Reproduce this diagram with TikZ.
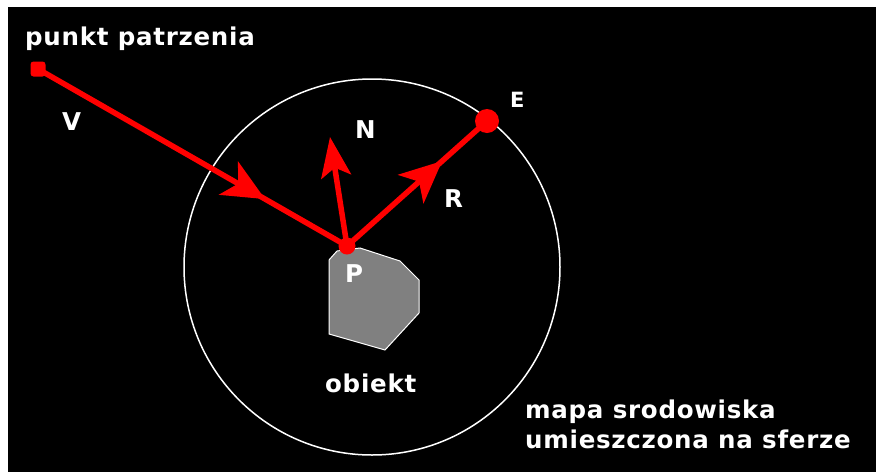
\documentclass[tikz,border=0pt]{standalone}
\usepackage{fontspec}
\setmainfont{DejaVu Sans}[LetterSpace=3]
\usetikzlibrary{arrows.meta,decorations.markings}
\definecolor{objgray}{RGB}{128,128,128}
\tikzset{bigtip/.tip={Stealth[length=42pt,width=38pt,inset=11pt]}}
\begin{document}
\begin{tikzpicture}[x=1pt,y=-1pt,
  lbl/.style={text=white,font=\bfseries\fontsize{24.5}{30}\selectfont,inner sep=0pt,anchor=base west},
  ray/.style={draw=red,line width=5.5pt},
  midarrow/.style={postaction={decorate},decoration={markings,mark=at position #1 with {\arrow[red]{bigtip}}}}
]
\useasboundingbox (0,0) rectangle (876,472);
\fill[white] (0,0) rectangle (876,472);
\fill[black] (8,7) rectangle (876,472);
% environment sphere
\draw[white,line width=1.5pt] (372,267) circle[radius=188pt];
% object
\draw[white,fill=objgray,line width=1pt] (329,260) -- (337,251) -- (360,248) -- (400,261) -- (419,280) -- (419,313) -- (385,350) -- (329,334) -- cycle;
% points
\node[fill=red,minimum size=15pt,rounded corners=3pt,inner sep=0pt] (view) at (38,69) {};
\node[circle,fill=red,minimum size=17pt,inner sep=0pt] (P) at (347,246) {};
\node[circle,fill=red,minimum size=24pt,inner sep=0pt] (E) at (487,121) {};
\coordinate (Ntip) at (330,137);
% rays
\draw[ray,midarrow=0.735] (view.center) -- (P.center);
\draw[ray,midarrow=0.68] (P.center) -- (E.center);
\draw[ray,-{Stealth[length=40pt,width=30pt,inset=9pt]}] (P.center) -- (Ntip);
% labels
\node[lbl] (t1) at (25,45) {punkt patrzenia};
\node[lbl] (tV) at (62,130) {V};
\node[lbl] (tN) at (355,138) {N};
\node[lbl] (tR) at (444,207) {R};
\node[lbl,font=\bfseries\fontsize{21}{24}\selectfont] (tE) at (510,107) {E};
\node[lbl] (tP) at (345,282) {P};
\node[lbl] (tobj) at (325,392) {obiekt};
\node[lbl] (tmap1) at (525,418) {mapa srodowiska};
\node[lbl] (tmap2) at (525,448) {umieszczona na sferze};
\end{tikzpicture}
\end{document}
